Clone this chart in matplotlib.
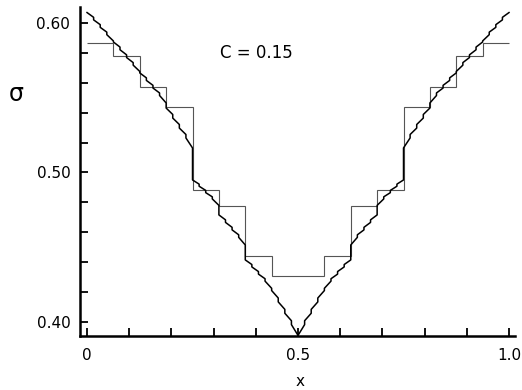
import numpy as np
import matplotlib
matplotlib.use('Agg')
import matplotlib.pyplot as plt

# Coarse approximation: one level per 1/16 cell (middle two cells share a level)
coarse_edges = np.linspace(0, 1, 17)
coarse_sigma = [0.5868, 0.5779, 0.5572, 0.5438, 0.4883, 0.4776, 0.4441, 0.4308,
                0.4308, 0.4441, 0.4776, 0.4885, 0.5438, 0.5575, 0.5779, 0.5866]

# Fine solution on the left half, 1/64 cells: value at start and end of each cell
fine_start = [0.6070, 0.6021, 0.5971, 0.5922, 0.5873, 0.5821, 0.5769, 0.5718,
              0.5666, 0.5616, 0.5565, 0.5515, 0.5431, 0.5364, 0.5297, 0.5231,
              0.4950, 0.4908, 0.4865, 0.4823, 0.4716, 0.4666, 0.4616, 0.4566,
              0.4415, 0.4368, 0.4320, 0.4273, 0.4210, 0.4134, 0.4058, 0.3982]
fine_end = [0.6038, 0.5989, 0.5939, 0.5880, 0.5839, 0.5787, 0.5735, 0.5676,
            0.5633, 0.5583, 0.5532, 0.5465, 0.5388, 0.5321, 0.5254, 0.5164,
            0.4922, 0.4880, 0.4837, 0.4780, 0.4683, 0.4633, 0.4583, 0.4515,
            0.4384, 0.4337, 0.4289, 0.4225, 0.4160, 0.4084, 0.4008, 0.3910]
n_fine = 64

xtick_labels = {0.0: '0', 0.5: '0.5', 1.0: '1.0'}
ytick_labels = {0.40: '0.40', 0.50: '0.50', 0.60: '0.60'}

#%% build the fine curve (symmetric about x = 0.5)
left_x, left_y = [], []
for k in range(len(fine_start)):
    left_x += [k / n_fine, (k + 1) / n_fine]
    left_y += [fine_start[k], fine_end[k]]
fine_x = left_x + [1 - v for v in reversed(left_x)]
fine_y = left_y + list(reversed(left_y))

#%% plot
plt.rcParams['font.family'] = ['DejaVu Sans']
fig = plt.figure(figsize=(5.22, 3.9), dpi=100)
ax = fig.add_axes([0.1533, 0.1385, 0.8333, 0.8435])

ax.stairs(coarse_sigma, coarse_edges, baseline=None, color='#555555', linewidth=0.8)
ax.plot(fine_x, fine_y, color='black', linewidth=1.1)

ax.set_xlim(-0.0166, 1.0142)
ax.set_ylim(0.3906, 0.6107)

for side in ['top', 'right']:
    ax.spines[side].set_visible(False)
for side in ['left', 'bottom']:
    ax.spines[side].set_linewidth(1.8)

xt = np.round(np.arange(0, 1.01, 0.1), 2)
yt = np.round(np.arange(0.40, 0.601, 0.02), 2)
ax.set_xticks(xt)
ax.set_xticklabels([xtick_labels.get(v, '') for v in xt])
ax.set_yticks(yt)
ax.set_yticklabels([ytick_labels.get(v, '') for v in yt])
ax.tick_params(direction='in', length=6, width=1.3, labelsize=11)
ax.tick_params(axis='x', pad=9)
ax.tick_params(axis='y', pad=7)

ax.text(0.405, 0.86, 'C = 0.15', transform=ax.transAxes, ha='center', va='center',
        fontsize=12)
fig.text(0.031, 0.759, 'σ', ha='center', va='center', fontsize=17)
fig.text(0.575, 0.023, 'x', ha='center', va='center', fontsize=11)

fig.savefig('out.png', dpi=100)
